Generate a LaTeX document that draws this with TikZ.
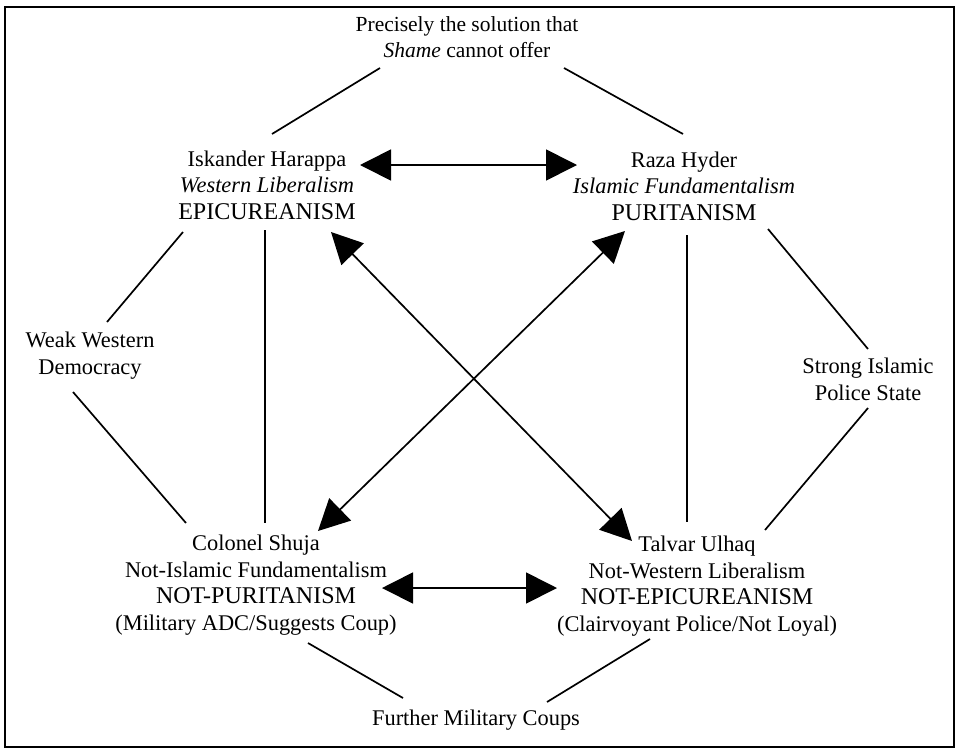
\documentclass[tikz,border=0pt]{standalone}
\usepackage{fontspec}
\setmainfont{Liberation Serif}
\usetikzlibrary{arrows.meta}
\begin{document}
\begin{tikzpicture}[x=1pt,y=-1pt,
  txt/.style={align=center, inner sep=0pt, anchor=base, font=\fontsize{22.4}{26.5}\selectfont},
  conn/.style={line width=1.7pt},
  dbl/.style={line width=1.7pt, {Triangle[length=31pt,width=31pt]}-{Triangle[length=31pt,width=31pt]}}]
\useasboundingbox (0,0) rectangle (957,750);
\draw[line width=2pt] (5,7) rectangle (954,747);
\newcommand\capsline[1]{{\fontsize{24}{26.5}\selectfont #1}}
% nodes (anchored at the baseline of their last line)
\node[txt, font=\fontsize{21.5}{26}\selectfont] (title) at (467,57) {Precisely the solution that\\\textit{Shame} cannot offer};
\node[txt] (isk) at (267,219) {Iskander Harappa\\\textit{Western Liberalism}\\\capsline{EPICUREANISM}};
\node[txt] (raza) at (684,220) {Raza Hyder\\\textit{Islamic Fundamentalism}\\\capsline{PURITANISM}};
\node[txt] (weak) at (90,374) {Weak Western\\Democracy};
\node[txt] (strong) at (868,400) {Strong Islamic\\Police State};
\node[txt] (shuja) at (256,630) {Colonel Shuja\\Not-Islamic Fundamentalism\\\capsline{NOT-PURITANISM}\\(Military ADC/Suggests Coup)};
\node[txt] (talvar) at (697,631) {Talvar Ulhaq\\Not-Western Liberalism\\\capsline{NOT-EPICUREANISM}\\(Clairvoyant Police/Not Loyal)};
\node[txt] (coups) at (476,725) {Further Military Coups};
% connector end points
\coordinate (title-l) at (380,68);
\coordinate (title-r) at (564,68);
\coordinate (isk-t) at (272,134);
\coordinate (raza-t) at (683,134);
\coordinate (isk-e) at (360,165);
\coordinate (raza-w) at (577,165);
\coordinate (isk-sw) at (183,232);
\coordinate (weak-n) at (107,322);
\coordinate (weak-s) at (73,392);
\coordinate (shuja-nw) at (186,523);
\coordinate (isk-s) at (265,230);
\coordinate (shuja-n) at (265,523);
\coordinate (raza-s) at (687,235);
\coordinate (talvar-n) at (687,522);
\coordinate (raza-se) at (768,229);
\coordinate (strong-n) at (868,349);
\coordinate (strong-s) at (868,408);
\coordinate (talvar-ne) at (765,530);
\coordinate (isk-se) at (331,232);
\coordinate (talvar-nw) at (632,541);
\coordinate (raza-sw) at (625,231);
\coordinate (shuja-ne) at (318,531);
\coordinate (shuja-e) at (382,588);
\coordinate (talvar-w) at (557,588);
\coordinate (shuja-se) at (308,643);
\coordinate (coups-l) at (403,698);
\coordinate (talvar-sw) at (650,639);
\coordinate (coups-r) at (547,702);
% connectors
\draw[conn] (title-l) -- (isk-t);
\draw[conn] (title-r) -- (raza-t);
\draw[dbl] (isk-e) -- (raza-w);
\draw[conn] (isk-sw) -- (weak-n);
\draw[conn] (weak-s) -- (shuja-nw);
\draw[conn] (isk-s) -- (shuja-n);
\draw[conn] (raza-s) -- (talvar-n);
\draw[conn] (raza-se) -- (strong-n);
\draw[conn] (strong-s) -- (talvar-ne);
\draw[dbl] (isk-se) -- (talvar-nw);
\draw[dbl] (raza-sw) -- (shuja-ne);
\draw[dbl] (shuja-e) -- (talvar-w);
\draw[conn] (shuja-se) -- (coups-l);
\draw[conn] (talvar-sw) -- (coups-r);
\end{tikzpicture}
\end{document}
